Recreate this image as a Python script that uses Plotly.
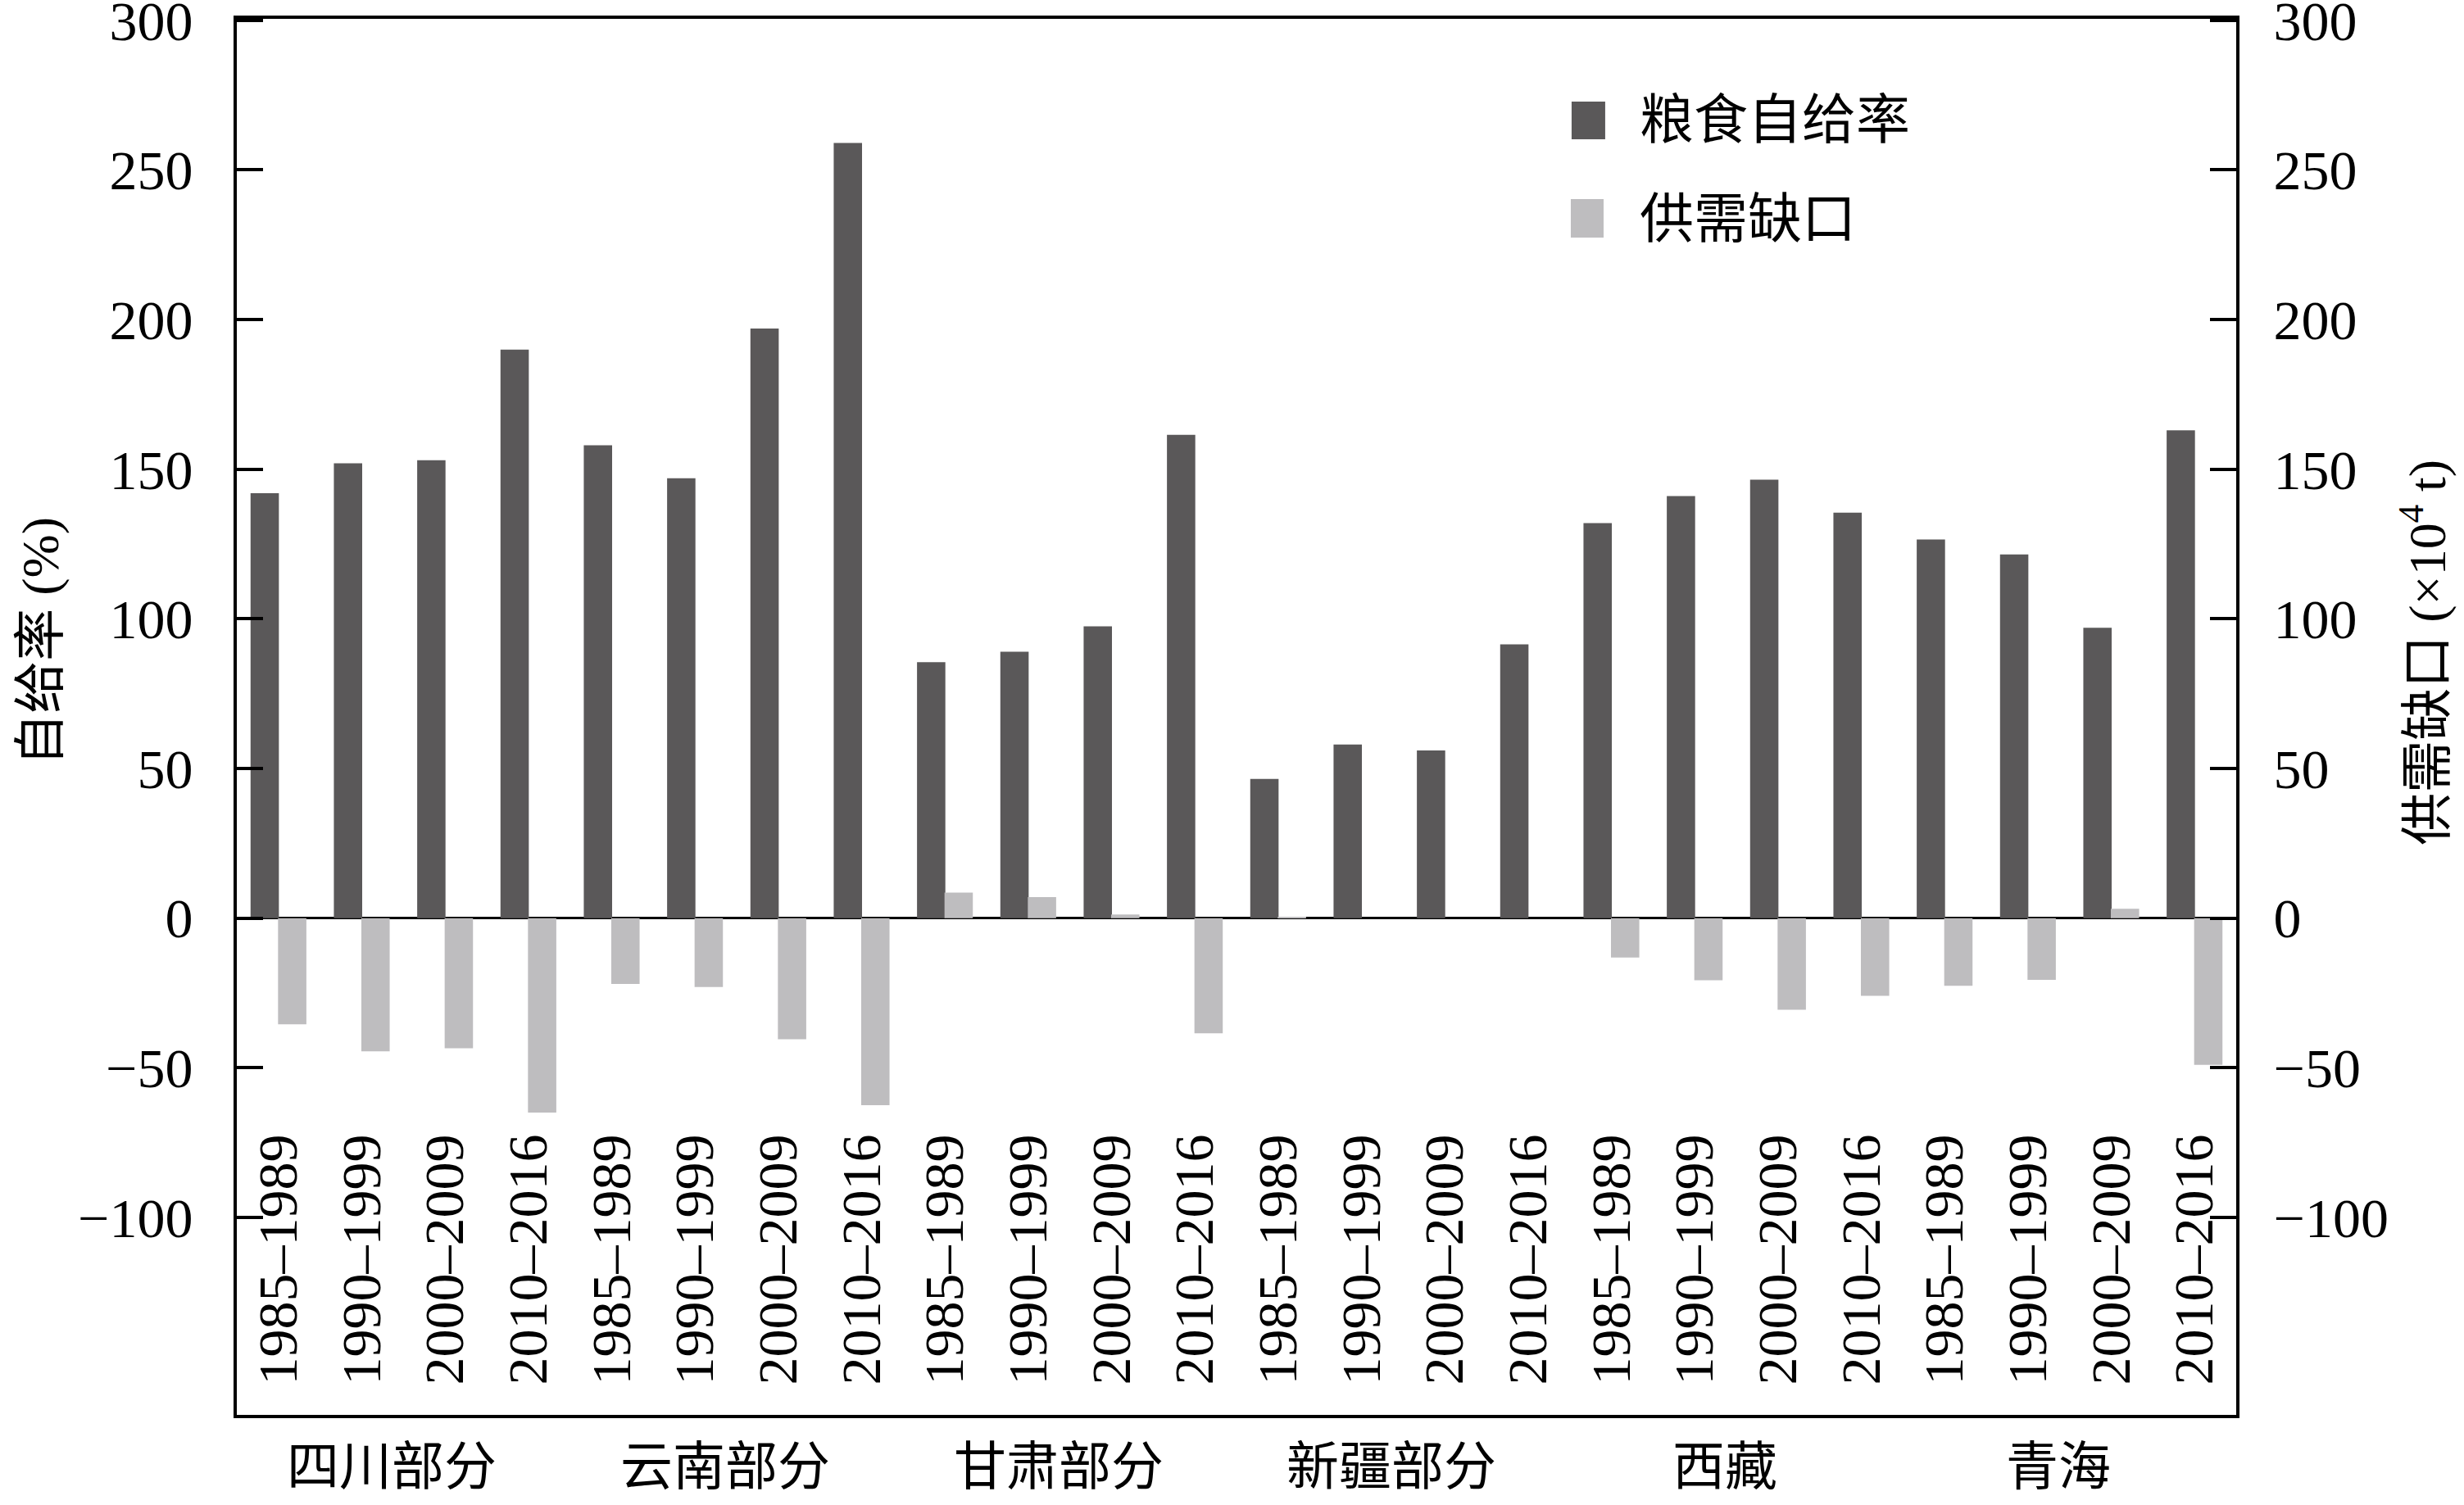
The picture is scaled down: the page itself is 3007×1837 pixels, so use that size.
import plotly.graph_objects as go

regions = ["四川部分", "云南部分", "甘肃部分", "新疆部分", "西藏", "青海"]
periods = ["1985–1989", "1990–1999", "2000–2009", "2010–2016"]

# 粮食自给率 (%) per region/period
self_sufficiency = [142, 152, 153, 190,
                    158, 147, 197, 259,
                    85.5, 89, 97.5, 161.5,
                    46.5, 58, 56, 91.5,
                    132, 141, 146.5, 135.5,
                    126.5, 121.5, 97, 163]
# 供需缺口 (×10^4 t)
supply_gap = [-35.5, -44.5, -43.5, -65,
              -22, -23, -40.5, -62.5,
              8.5, 7, 1.2, -38.5,
              0.4, 0, 0, 0,
              -13.2, -20.8, -30.6, -26,
              -22.6, -20.6, 3.1, -49]

y_ticks = [-100, -50, 0, 50, 100, 150, 200, 250, 300]

labels = [p for r in regions for p in periods]
xpos = list(range(len(labels)))

FONT = "Liberation Serif, Noto Sans CJK SC, serif"
FS = 64
DARK = "#5a5859"
LIGHT = "#bebdbf"
BLACK = "black"

fig = go.Figure()
fig.add_trace(go.Bar(
    x=xpos, y=self_sufficiency, name="粮食自给率",
    marker=dict(color=DARK, line=dict(width=0)),
    width=0.34, offset=-0.335, xaxis="x", yaxis="y", showlegend=False,
))
fig.add_trace(go.Bar(
    x=xpos, y=supply_gap, name="供需缺口",
    marker=dict(color=LIGHT, line=dict(width=0)),
    width=0.34, offset=-0.005, xaxis="x2", yaxis="y2", showlegend=False,
))

yr = [-166, 300.5]
xr = [-0.5, len(labels) - 0.5]
common_y = dict(
    range=yr, tickvals=y_ticks, ticks="inside", ticklen=32, tickwidth=4,
    tickcolor=BLACK, showline=True, linewidth=4, linecolor=BLACK,
    showgrid=False, tickfont=dict(family=FONT, size=68, color=BLACK),
    ticklabeloverflow="allow", automargin=False,
)

fig.update_layout(
    width=3007, height=1837,
    margin=dict(l=289, r=278, t=23, b=110, autoexpand=False),
    paper_bgcolor="white", plot_bgcolor="white",
    barmode="overlay",
    font=dict(family=FONT, size=FS, color=BLACK),
    xaxis=dict(
        range=xr, showticklabels=False, ticks="",
        showline=True, linewidth=4, linecolor=BLACK, mirror=True,
        showgrid=False, zeroline=False, automargin=False,
    ),
    xaxis2=dict(
        range=xr, overlaying="x", anchor="free", position=0.2095, side="bottom",
        tickvals=xpos, ticktext=labels, tickangle=-90, ticks="",
        showline=False, showgrid=False, zeroline=False, automargin=False,
        tickfont=dict(family=FONT, size=68, color=BLACK),
    ),
    yaxis=dict(**common_y, side="left", anchor="x", zeroline=True,
               zerolinecolor=BLACK, zerolinewidth=3, ticklabelstandoff=36),
    yaxis2=dict(**common_y, side="right", overlaying="y", anchor="x",
                zeroline=False, ticklabelstandoff=28),
    showlegend=False,
)

shapes = []
annotations = []

# legend (squares + labels)
legend_items = [("粮食自给率", DARK, 0.6676, 0.6844, 0.9137, 0.9407, 0.9278),
                ("供需缺口", LIGHT, 0.6672, 0.6836, 0.8433, 0.8709, 0.8568)]
for name, col, x0, x1, y0, y1, ty in legend_items:
    shapes.append(dict(type="rect", xref="paper", yref="paper",
                       x0=x0, x1=x1, y0=y0, y1=y1,
                       fillcolor=col, line=dict(width=0)))
    annotations.append(dict(x=0.7008, y=ty, xref="paper", yref="paper",
                            text=name, showarrow=False, xanchor="left",
                            yanchor="middle",
                            font=dict(family=FONT, size=66, color=BLACK)))

for i, r in enumerate(regions):
    annotations.append(dict(
        x=i * len(periods) + (len(periods) - 1) / 2, y=-0.037,
        xref="x", yref="paper", text=r, showarrow=False,
        xanchor="center", yanchor="middle", xshift=-14,
        font=dict(family=FONT, size=64, color=BLACK),
    ))
annotations.append(dict(
    x=-0.098, y=0.554, xref="paper", yref="paper", text="自给率 (%)",
    textangle=-90, showarrow=False, xanchor="center", yanchor="middle",
    font=dict(family=FONT, size=FS, color=BLACK),
))
annotations.append(dict(
    x=1.0939, y=0.546, xref="paper", yref="paper",
    text="供需缺口 (×10<sup>4</sup> t)",
    textangle=-90, showarrow=False, xanchor="center", yanchor="middle",
    font=dict(family=FONT, size=FS, color=BLACK),
))
fig.update_layout(annotations=annotations, shapes=shapes)

fig.write_html("out.html", config={"displayModeBar": False},
               post_script="document.body.style.margin='0';")
